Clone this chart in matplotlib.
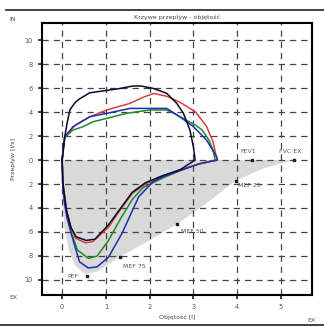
import matplotlib.pyplot as plt
from matplotlib.ticker import FuncFormatter

# Flow-volume loops: volume [l] vs flow [l/s]; inspiration positive (up), expiration negative (down)
black_x = [0, 0.03, 0.06, 0.12, 0.18, 0.3, 0.4, 0.63, 1.02, 1.3, 1.62, 1.8, 2.08, 2.39, 2.62, 2.77, 2.92, 3.0, 3.04,
           2.7, 2.3, 1.9, 1.6, 1.3, 1.06, 0.75, 0.55, 0.32, 0.2, 0.1, 0.02, 0]
black_y = [0, 1.0, 1.94, 3.2, 4.2, 4.8, 5.1, 5.6, 5.8, 5.95, 6.17, 6.17, 5.97, 5.56, 4.72, 3.9, 2.5, 1.1, 0,
           -0.8, -1.3, -1.9, -2.7, -4.2, -5.4, -6.6, -6.7, -6.4, -5.6, -4.2, -2.0, 0]

red_x = [0, 0.06, 0.3, 0.63, 1.02, 1.55, 1.9, 2.1, 2.4, 2.7, 3.05, 3.3, 3.45, 3.52, 3.55,
         3.1, 2.75, 2.3, 1.9, 1.6, 1.3, 1.06, 0.7, 0.53, 0.3, 0.2, 0.1, 0.02, 0]
red_y = [0, 1.94, 2.9, 3.6, 4.17, 4.72, 5.3, 5.55, 5.3, 4.8, 4.0, 2.8, 1.5, 0.3, 0,
         -0.35, -0.8, -1.4, -2.0, -2.8, -4.3, -5.6, -6.8, -6.9, -6.5, -5.6, -4.2, -2.0, 0]

green_x = [0, 0.06, 0.25, 0.48, 0.71, 1.02, 1.47, 2.0, 2.39, 2.55, 2.8, 3.05, 3.2, 3.35, 3.45, 3.5,
           3.1, 2.75, 2.3, 1.85, 1.6, 1.35, 1.06, 0.8, 0.6, 0.35, 0.22, 0.1, 0.02, 0]
green_y = [0, 1.9, 2.5, 2.78, 3.19, 3.47, 3.89, 4.17, 4.17, 3.9, 3.4, 2.9, 2.5, 1.7, 0.8, 0,
           -0.35, -0.8, -1.5, -2.3, -3.3, -4.8, -6.7, -8.0, -8.2, -7.5, -6.2, -4.3, -2.0, 0]

blue_x = [0, 0.06, 0.25, 0.63, 1.02, 1.55, 2.31, 2.39, 2.69, 3.0, 3.3, 3.53, 3.55,
          3.15, 2.75, 2.3, 2.08, 1.75, 1.37, 1.06, 0.8, 0.6, 0.4, 0.3, 0.22, 0.11, 0.05, 0.01, 0]
blue_y = [0, 1.94, 2.78, 3.6, 3.89, 4.3, 4.3, 4.3, 3.6, 2.78, 1.67, 0.28, 0,
          -0.3, -0.8, -1.4, -1.8, -3.06, -6.1, -8.1, -8.9, -9.0, -8.5, -7.3, -6.3, -4.8, -3.5, -1.9, 0]

# predicted (normal) expiratory area
pred_x = [0, 0, 0.05, 0.15, 0.3, 0.52, 0.8, 1.32, 2.0, 2.65, 3.3, 3.97, 4.6, 5.29]
pred_y = [0, -3.0, -5.5, -7.5, -8.8, -9.5, -9.3, -8.06, -6.7, -5.28, -3.6, -1.72, -0.7, 0]

# measured points
pt_names = ['PEF', 'MEF 75', 'MEF 50', 'MEF 25', 'FEV1', 'FVC EX']
pt_x = [0.57, 1.32, 2.62, 3.97, 4.33, 5.29]
pt_y = [-9.67, -8.06, -5.3, -1.72, 0, 0]

fig = plt.figure(figsize=(3.24, 3.27), dpi=100)
ax = fig.add_axes([0.1296, 0.0979, 0.8334, 0.8318])

ax.fill(pred_x + [0], pred_y + [0], color='#d9d9d9', lw=0, zorder=0.2)
ax.plot(green_x, green_y, color='#1e8a2a', lw=1.1, zorder=3)
ax.plot(red_x, red_y, color='#d8403a', lw=1.1, zorder=3)
ax.plot(blue_x, blue_y, color='#1c2fb0', lw=1.1, zorder=4)
ax.plot(black_x, black_y, color='#0a0a30', lw=1.1, zorder=4)

ax.scatter(pt_x, pt_y, s=3, marker='s', color='#222222', zorder=5)
label_pos = {'PEF': (0.12, -9.67, 'left'), 'MEF 75': (1.38, -8.9, 'left'),
             'MEF 50': (2.72, -5.95, 'left'), 'MEF 25': (4.03, -2.1, 'left'),
             'FEV1': (4.07, 0.75, 'left'), 'FVC EX': (4.95, 0.75, 'left')}
for name in pt_names:
    lx, ly, ha = label_pos[name]
    ax.text(lx, ly, name, fontsize=4.5, color='#555555', ha=ha, va='center', zorder=6)

ax.set_xlim(-0.46, 5.71)
ax.set_ylim(-11.25, 11.42)
ax.set_xticks(range(6))
ax.set_yticks(range(-10, 11, 2))
ax.yaxis.set_major_formatter(FuncFormatter(lambda v, p: f"{abs(int(v))}"))
ax.tick_params(labelsize=4.8, labelcolor='#555555', length=3, width=1.2, color='#222222')
ax.grid(True, color='#444444', ls=(0, (5, 4)), lw=0.9, zorder=0.5)
ax.set_axisbelow(True)
for s in ax.spines.values():
    s.set_linewidth(1.5)

ax.set_title('Krzywe przepływ - objętość', fontsize=4.5, color='#444444', pad=3)
ax.set_xlabel('Objętość [l]', fontsize=4.5, color='#444444', labelpad=3)
ax.set_ylabel('Przepływ [l/s]', fontsize=4.5, color='#444444', labelpad=6)

fig.text(0.03, 0.935, 'IN', fontsize=4.5, color='#555555')
fig.text(0.03, 0.085, 'EX', fontsize=4.5, color='#555555')
fig.text(0.975, 0.015, 'EX', fontsize=4.5, color='#555555', ha='right')
fig.add_artist(plt.Line2D([0.02, 1.0], [0.97, 0.97], color='#222222', lw=1.2))
fig.add_artist(plt.Line2D([0.0, 1.0], [0.005, 0.005], color='#222222', lw=1.2))

fig.savefig('out.png', dpi=100)
